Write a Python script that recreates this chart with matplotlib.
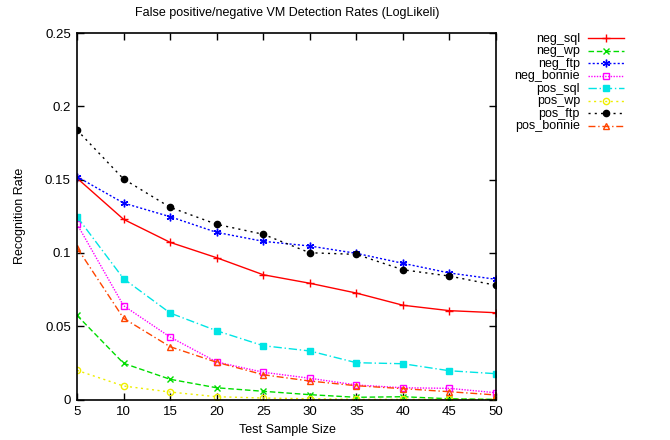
import matplotlib
matplotlib.use("Agg")
import matplotlib.pyplot as plt
from matplotlib.lines import Line2D

plt.rcParams['font.family'] = ['Liberation Sans', 'DejaVu Sans']

x = [5, 10, 15, 20, 25, 30, 35, 40, 45, 50]
neg_sql = [0.151, 0.1229, 0.1072, 0.0967, 0.0851, 0.0793, 0.0726, 0.0643, 0.0606, 0.0592]
neg_wp = [0.0574, 0.0247, 0.0138, 0.008, 0.0056, 0.0033, 0.0015, 0.0019, 0.0005, 0.0001]
neg_ftp = [0.152, 0.134, 0.1247, 0.114, 0.1079, 0.1047, 0.0997, 0.0929, 0.0863, 0.082]
neg_bonnie = [0.1197, 0.064, 0.0426, 0.0256, 0.0186, 0.0145, 0.0099, 0.008, 0.0076, 0.0046]
pos_sql = [0.1247, 0.0824, 0.059, 0.0469, 0.0367, 0.0331, 0.0251, 0.0244, 0.0196, 0.0176]
pos_wp = [0.0199, 0.0092, 0.0051, 0.0019, 0.001, 0.0005, 0.0001, 0.0001, 0.0001, 0.0001]
pos_ftp = [0.1838, 0.1504, 0.1311, 0.1195, 0.1127, 0.1001, 0.099, 0.0885, 0.0842, 0.0779]
pos_bonnie = [0.1036, 0.0554, 0.036, 0.0254, 0.0169, 0.0126, 0.0094, 0.0074, 0.0053, 0.0031]

series = [
    ("neg_sql", neg_sql, "#ff0000", "-", "+", False, 5.5),
    ("neg_wp", neg_wp, "#00dd00", (0, (4, 2)), "x", False, 4.5),
    ("neg_ftp", neg_ftp, "#0000ff", (0, (1.5, 1.5)), (6, 2, 0), False, 5.5),
    ("neg_bonnie", neg_bonnie, "#ff00ff", (0, (1, 1)), "s", False, 4.5),
    ("pos_sql", pos_sql, "#00e5e5", (0, (6, 2, 1, 2)), "s", True, 4.5),
    ("pos_wp", pos_wp, "#eeee00", (0, (1.5, 2.5)), "o", False, 4.5),
    ("pos_ftp", pos_ftp, "#000000", (0, (1.5, 3)), "o", True, 4.5),
    ("pos_bonnie", pos_bonnie, "#ff4500", (0, (5, 2, 1, 2)), "^", False, 4.5),
]

W, H = 670, 440
fig = plt.figure(figsize=(6.7, 4.4), dpi=100)
ax = fig.add_axes([77/W, (H - 399.5)/H, 419/W, 366.5/H])

for name, vals, col, ls, mk, fill, ms in series:
    ax.plot(x, vals, color=col, linestyle=ls, linewidth=1.0, marker=mk,
            markersize=ms, markerfacecolor=(col if fill else "none"),
            markeredgecolor=col, markeredgewidth=1.0, label=name)

ax.set_xlim(5, 50)
ax.set_ylim(0, 0.25)
xt = [5, 10, 15, 20, 25, 30, 35, 40, 45, 50]
ax.set_xticks(xt)
ax.set_xticklabels([str(v) for v in xt])
yt = [0, 0.05, 0.1, 0.15, 0.2, 0.25]
ax.set_yticks(yt)
ax.set_yticklabels(["0", "0.05", "0.1", "0.15", "0.2", "0.25"])
ax.tick_params(direction="in", top=True, right=True, length=5, width=1, labelsize=9.5)
ax.tick_params(axis="x", pad=5)
ax.tick_params(axis="y", pad=4.5)
for s in ax.spines.values():
    s.set_linewidth(1.2)

fig.text(287/W, 1 - 13/H, "False positive/negative VM Detection Rates (LogLikeli)",
         ha="center", va="center", fontsize=9)
fig.text(287/W, 1 - 430/H, "Test Sample Size", ha="center", va="center", fontsize=9)
fig.text(20/W, 1 - 216/H, "Recognition Rate", ha="center", va="center",
         rotation=90, fontsize=9)

# manual legend (gnuplot style: right-aligned text, sample after)
for i, (name, vals, col, ls, mk, fill, ms) in enumerate(series):
    ypx = 38.3 + i * 12.5
    yy = 1 - ypx / H
    fig.text(580/W, 1 - (ypx + 3.5) / H, name, ha="right", va="baseline", fontsize=9)
    fig.add_artist(Line2D([588/W, 624/W], [yy, yy], transform=fig.transFigure,
                          color=col, linestyle=ls, linewidth=1.0))
    fig.add_artist(Line2D([606/W], [yy], transform=fig.transFigure, color=col,
                          linestyle="none", marker=mk, markersize=ms,
                          markerfacecolor=(col if fill else "none"),
                          markeredgecolor=col, markeredgewidth=1.0))

fig.savefig("out.png", dpi=100)
